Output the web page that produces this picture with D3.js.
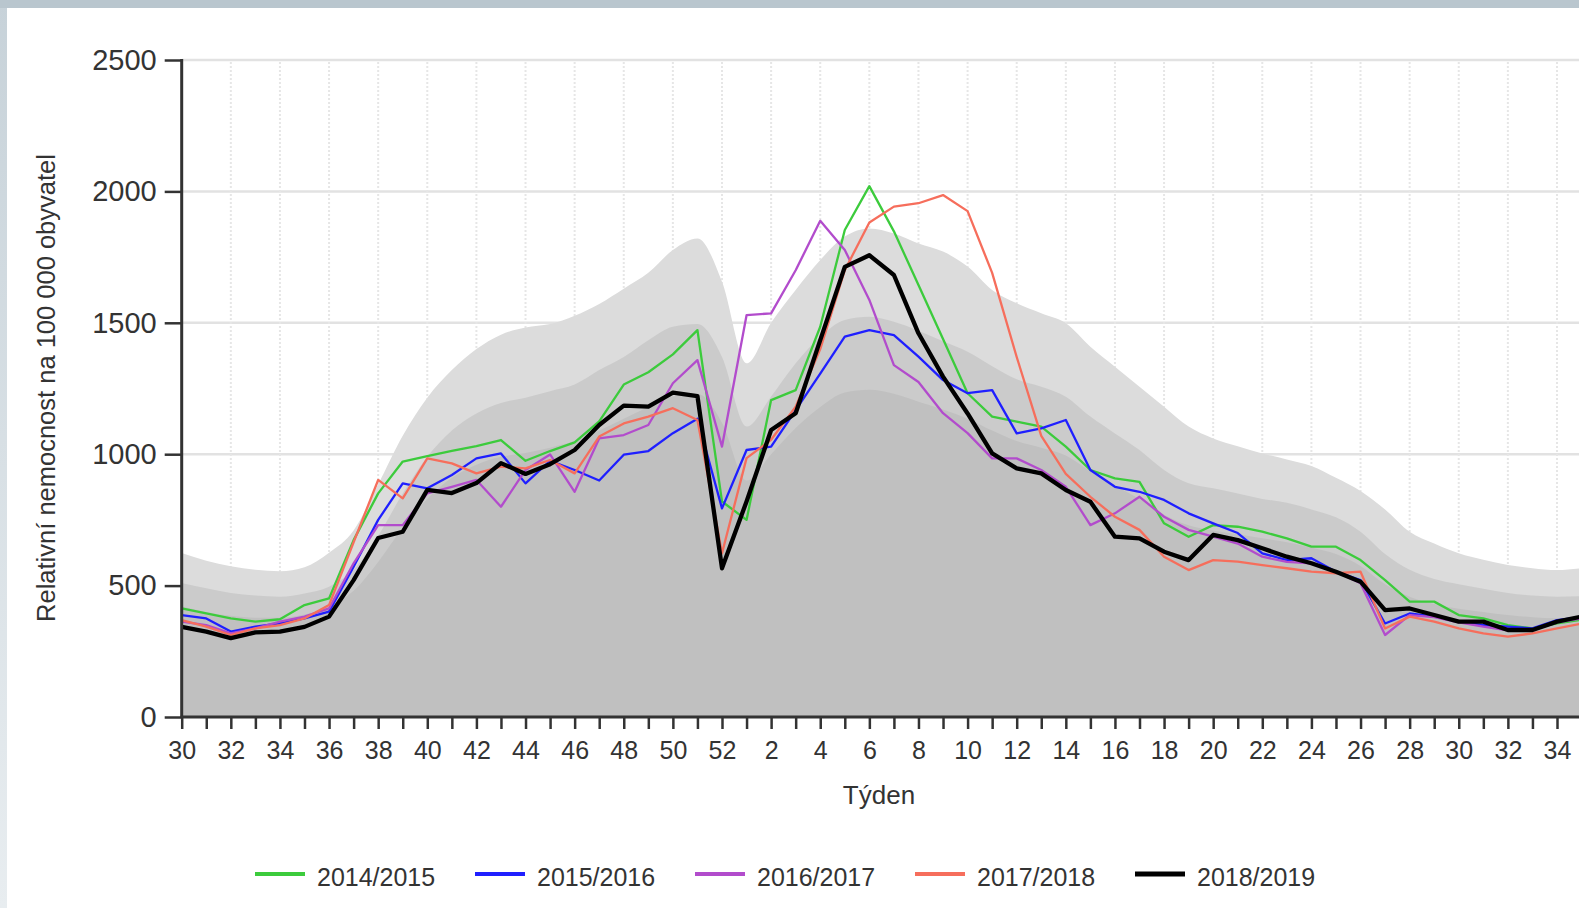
<!DOCTYPE html>
<html>
<head>
<meta charset="utf-8">
<script src="https://cdn.jsdelivr.net/npm/d3@7/dist/d3.min.js"></script>
<style>
html, body { margin: 0; padding: 0; background: #fff; overflow: hidden; }
svg { display: block; font-family: "Liberation Sans", Arial, sans-serif; }
</style>
</head>
<body>
<svg id="chart" width="1579" height="908"></svg>
<script>

// calendar weeks of the season, 30 .. 52 and 1 .. 35
var weeks = [30, 31, 32, 33, 34, 35, 36, 37, 38, 39, 40, 41, 42, 43, 44, 45, 46, 47, 48, 49, 50, 51, 52,
    1, 2, 3, 4, 5, 6, 7, 8, 9, 10, 11, 12, 13, 14, 15, 16, 17, 18, 19, 20, 21, 22, 23, 24, 25, 26, 27, 28, 29, 30, 31, 32, 33, 34, 35];

var yTicks = [0, 500, 1000, 1500, 2000, 2500];

var seasons = ["2014/2015", "2015/2016", "2016/2017", "2017/2018", "2018/2019"];
var seasonColors = ["#3ccb3c", "#1f1fff", "#b24ccc", "#f66e5c", "#000000"];

var s1415 = [413, 394, 375, 363, 372, 426, 451, 673, 851, 972, 993, 1013, 1031, 1054, 975, 1012, 1045, 1125, 1265, 1312, 1380, 1472, 820,
    750, 1206, 1244, 1485, 1853, 2020, 1848, 1644, 1438, 1232, 1143, 1124, 1105, 1029, 940, 908, 895, 737, 686, 730, 724, 705, 680, 648, 648, 597, 521, 439, 439, 388, 375, 350, 337, 356, 370];
var s1516 = [388, 375, 325, 344, 356, 375, 401, 572, 750, 889, 870, 921, 984, 1003, 889, 975, 940, 900, 998, 1012, 1080, 1135, 794,
    1016, 1029, 1168, 1307, 1447, 1472, 1453, 1371, 1282, 1232, 1244, 1079, 1098, 1130, 940, 876, 857, 826, 775, 737, 700, 623, 597, 604, 553, 521, 356, 394, 382, 363, 350, 344, 337, 369, 380];
var s1617 = [363, 350, 318, 337, 363, 382, 413, 585, 730, 730, 851, 876, 902, 800, 940, 999, 857, 1060, 1073, 1111, 1270, 1358, 1029,
    1529, 1536, 1700, 1888, 1777, 1587, 1339, 1275, 1156, 1080, 984, 984, 940, 876, 730, 775, 838, 762, 712, 686, 660, 610, 590, 585, 553, 509, 312, 388, 380, 360, 344, 330, 330, 360, 375];
var s1718 = [369, 344, 312, 337, 350, 375, 426, 665, 902, 832, 984, 965, 927, 953, 946, 978, 927, 1067, 1117, 1143, 1175, 1130, 623,
    985, 1055, 1181, 1400, 1700, 1882, 1942, 1955, 1986, 1925, 1690, 1370, 1070, 925, 838, 762, 712, 610, 559, 597, 591, 578, 566, 553, 547, 553, 337, 382, 363, 337, 318, 306, 318, 337, 355];
var s1819 = [343, 325, 300, 322, 325, 343, 382, 521, 681, 705, 864, 852, 890, 966, 925, 962, 1016, 1111, 1185, 1181, 1234, 1221, 566,
    820, 1092, 1156, 1434, 1713, 1757, 1682, 1460, 1295, 1155, 1003, 946, 927, 864, 819, 686, 680, 629, 597, 693, 673, 642, 610, 585, 553, 515, 407, 413, 388, 363, 363, 331, 331, 363, 382];

// grey background bands (upper edges)
var bandHigh = [624, 595, 574, 560, 555, 570, 625, 710, 885, 1070, 1215, 1320, 1400, 1455, 1482, 1495, 1527, 1572, 1630, 1690, 1777, 1821, 1656,
    1346, 1500, 1625, 1739, 1828, 1859, 1840, 1802, 1771, 1714, 1625, 1574, 1536, 1498, 1409, 1333, 1257, 1181, 1105, 1060, 1030, 1003, 980, 955, 910, 860, 790, 705, 660, 623, 598, 578, 566, 559, 566];
var bandMid = [510, 490, 472, 462, 458, 470, 496, 560, 690, 850, 990, 1090, 1155, 1195, 1215, 1240, 1265, 1320, 1370, 1434, 1485, 1495, 1370,
    1105, 1220, 1346, 1447, 1511, 1523, 1504, 1470, 1430, 1390, 1335, 1285, 1257, 1219, 1143, 1079, 1016, 940, 889, 870, 850, 830, 815, 790, 760, 705, 620, 560, 525, 505, 488, 472, 462, 458, 460];
var bandLow = [420, 400, 385, 378, 378, 390, 420, 480, 590, 720, 830, 910, 960, 990, 1005, 1025, 1050, 1090, 1135, 1180, 1220, 1230, 1120,
    900, 1000, 1100, 1180, 1235, 1245, 1230, 1200, 1170, 1135, 1090, 1050, 1025, 995, 935, 880, 830, 770, 730, 710, 695, 680, 665, 645, 620, 575, 505, 458, 430, 412, 400, 388, 380, 376, 378];

var seriesData = [s1415, s1516, s1617, s1718, s1819];

var W = 1579, H = 908;
var svg = d3.select("#chart");

// page frame
var defs = svg.append("defs");
var grad = defs.append("linearGradient").attr("id", "sideGrad")
    .attr("x1", 0).attr("y1", 0).attr("x2", 0).attr("y2", 1);
grad.append("stop").attr("offset", "0%").attr("stop-color", "#c7d2d9");
grad.append("stop").attr("offset", "100%").attr("stop-color", "#e8edf0");

svg.append("rect").attr("width", W).attr("height", H).attr("fill", "#ffffff");
svg.append("rect").attr("x", 0).attr("y", 0).attr("width", 7).attr("height", H).attr("fill", "url(#sideGrad)");
svg.append("rect").attr("x", 0).attr("y", 0).attr("width", W).attr("height", 8).attr("fill", "#b9c6ce");

var x = d3.scaleLinear().domain([0, 56]).range([181.7, 1557]);
var y = d3.scaleLinear().domain([0, 2500]).range([717, 60]);

defs.append("clipPath").attr("id", "plotClip")
    .append("rect").attr("x", x(0)).attr("y", 0).attr("width", W - x(0)).attr("height", y(0));

var plot = svg.append("g").attr("clip-path", "url(#plotClip)");

// grid
plot.selectAll(".hgrid").data(yTicks.slice(1)).enter().append("line")
    .attr("class", "hgrid")
    .attr("x1", x(0)).attr("x2", W)
    .attr("y1", d => y(d)).attr("y2", d => y(d))
    .attr("stroke", "#e2e2e2").attr("stroke-width", 2.5);

var evenIdx = weeks.map((w, i) => i).filter(i => i % 2 == 0 && i > 0);
plot.selectAll(".vgrid").data(evenIdx).enter().append("line")
    .attr("class", "vgrid")
    .attr("x1", d => x(d)).attr("x2", d => x(d))
    .attr("y1", 62).attr("y2", y(0))
    .attr("stroke", "#e6e6e6").attr("stroke-width", 2)
    .attr("stroke-dasharray", "2,2");

// bands
function band(values, color) {
    var area = d3.area()
        .x((d, i) => x(i))
        .y0(y(0))
        .y1(d => y(d))
        .curve(d3.curveMonotoneX);
    plot.append("path").datum(values)
        .attr("d", area)
        .attr("fill", color);
}
band(bandHigh, "#dcdcdc");
band(bandMid, "#cbcbcb");
band(bandLow, "#c0c0c0");

// season lines
var line = d3.line().x((d, i) => x(i)).y(d => y(d));
seriesData.forEach((s, k) => {
    plot.append("path").datum(s)
        .attr("d", line)
        .attr("fill", "none")
        .attr("stroke", seasonColors[k])
        .attr("stroke-width", k == 4 ? 4.3 : 2.3)
        .attr("stroke-linejoin", "round");
});

// axes
var yAxis = d3.axisLeft(y).tickValues(yTicks).tickFormat(d3.format("d"))
    .tickSize(17).tickPadding(8).tickSizeOuter(0);
var gy = svg.append("g").attr("transform", "translate(" + x(0) + ",0)").call(yAxis);
gy.select(".domain").remove();
gy.selectAll(".tick line").attr("stroke", "#333").attr("stroke-width", 2.5);
gy.selectAll(".tick text").attr("fill", "#333").style("font-size", "29px")
    .style("font-family", "'Liberation Sans', Arial, sans-serif");

var xAxis = d3.axisBottom(x)
    .tickValues(weeks.map((w, i) => i))
    .tickSize(12).tickPadding(12).tickSizeOuter(0)
    .tickFormat(i => i % 2 == 0 ? weeks[i] : "");
var gx = svg.append("g").attr("transform", "translate(0," + y(0) + ")").call(xAxis);
gx.select(".domain").remove();
gx.selectAll(".tick line").attr("stroke", "#333").attr("stroke-width", 2.5);
gx.selectAll(".tick text").attr("fill", "#333").style("font-size", "25px")
    .style("font-family", "'Liberation Sans', Arial, sans-serif");

svg.append("line").attr("x1", x(0)).attr("x2", x(0)).attr("y1", 59).attr("y2", y(0) + 1)
    .attr("stroke", "#333").attr("stroke-width", 3);
svg.append("line").attr("x1", x(0) - 1).attr("x2", W).attr("y1", y(0)).attr("y2", y(0))
    .attr("stroke", "#333").attr("stroke-width", 3);

// axis titles
svg.append("text").attr("x", 879).attr("y", 804)
    .attr("text-anchor", "middle").attr("fill", "#333")
    .style("font-size", "26px").text("Týden");

svg.append("text").attr("transform", "translate(55,388) rotate(-90)")
    .attr("text-anchor", "middle").attr("fill", "#333")
    .style("font-size", "25.5px").text("Relativní nemocnost na 100 000 obyvatel");

// legend
var legend = svg.append("g").attr("transform", "translate(255,874)");
seasons.forEach((name, k) => {
    var g = legend.append("g").attr("transform", "translate(" + (k * 220) + ",0)");
    g.append("line").attr("x1", 0).attr("x2", 50).attr("y1", 0).attr("y2", 0)
        .attr("stroke", seasonColors[k]).attr("stroke-width", k == 4 ? 5 : 4);
    g.append("text").attr("x", 62).attr("y", 12).attr("fill", "#333")
        .style("font-size", "25px").text(name);
});

</script>
</body>
</html>
